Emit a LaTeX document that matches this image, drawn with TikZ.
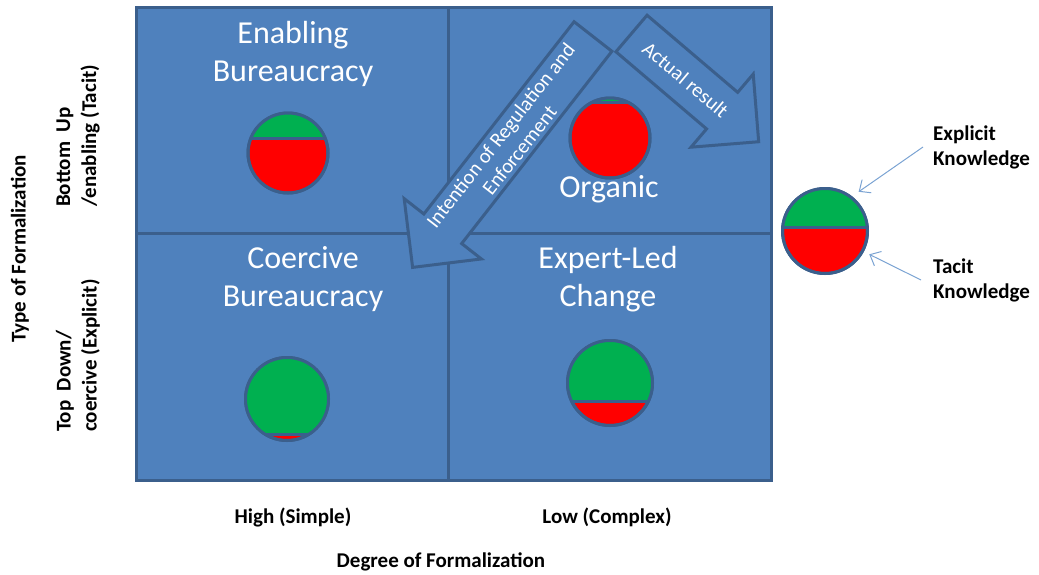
\documentclass[tikz,border=0pt]{standalone}
\usepackage{fontspec}
\setmainfont{Carlito}
\usetikzlibrary{arrows.meta}
\definecolor{boxblue}{HTML}{4F81BD}
\definecolor{boxline}{HTML}{3B5F8C}
\definecolor{ballgreen}{HTML}{00B050}
\definecolor{ballred}{HTML}{FF0000}
\definecolor{legendline}{HTML}{7BA3D3}

\begin{document}
\begin{tikzpicture}[x=1pt,y=-1pt,
   quad/.style={draw=boxline,fill=boxblue,line width=3pt,inner sep=0pt,outer sep=0pt,anchor=north west},
   quadtitle/.style={text=white,align=center,font=\fontsize{32}{38}\selectfont},
   axislabel/.style={font=\bfseries\fontsize{21}{26}\selectfont,inner sep=0pt},
   ball/.style={circle,draw=boxline,fill=ballred,line width=3pt,inner sep=0pt},
   blockarrow/.style={draw=boxline,fill=boxblue,line width=3pt,line join=miter},
   arrowtext/.style={text=white,align=center,font=\fontsize{20.5}{24}\selectfont,inner sep=0pt},
   legarrow/.style={draw=legendline,line width=1pt,-{Straight Barb[length=9pt,width=16pt]}}]
 \useasboundingbox (0,0) rectangle (1039,574);

 \node[quad,minimum width=312pt,minimum height=226pt] (q-eb) at (136,7) {};
 \node[quad,minimum width=323pt,minimum height=226pt] (q-org) at (448,7) {};
 \node[quad,minimum width=312pt,minimum height=247pt] (q-cb) at (136,233) {};
 \node[quad,minimum width=323pt,minimum height=247pt] (q-el) at (448,233) {};

 \foreach \n/\cx/\cy/\r/\s in {eb/288/153/40/-15,org/610/138/40/-36,cb/287/399/41.5/35,
                               el/610/383/42.5/18,leg/825/231/42.5/-4}{
   \node[ball,minimum size={2*\r*1pt}] (ball-\n) at (\cx,\cy) {};
   \begin{scope}
     \clip (ball-\n.center) circle [radius={\r*1pt}];
     \fill[ballgreen] ({\cx-50},{\cy-50}) rectangle ({\cx+50},{\cy+\s});
     \draw[boxline,line width=3pt] ({\cx-50},{\cy+\s}) -- ({\cx+50},{\cy+\s});
   \end{scope}
   \draw[boxline,line width=3pt] (ball-\n.center) circle [radius={\r*1pt}];
 }

 \begin{scope}[shift={(593,36.5)},rotate=232]
   \draw[blockarrow] (0,-24) -- (244,-24) -- (244,-49) -- (293,0) -- (244,49) -- (244,24) -- (0,24) -- cycle;
   \coordinate (intent-c) at (135,0);
 \end{scope}
 \begin{scope}[shift={(631.5,33.5)},rotate=-40.4]
   \draw[blockarrow] (0,-24) -- (119,-24) -- (119,-48) -- (167,0) -- (119,48) -- (119,24) -- (0,24) -- cycle;
   \coordinate (actual-c) at (71,0);
 \end{scope}
 \node[arrowtext,rotate=52] (intent) at (intent-c) {Intention of Regulation and\\Enforcement};
 \node[arrowtext,rotate=-40] (actual) at (actual-c) {Actual result};

 \node[quadtitle] (t-eb) at (293,54) {Enabling\\Bureaucracy};
 \node[quadtitle] (t-org) at (609,189) {Organic};
 \node[quadtitle] (t-cb) at (303,279) {Coercive\\Bureaucracy};
 \node[quadtitle] (t-el) at (608,279) {Expert-Led\\Change};

 \node[axislabel,rotate=90] (type) at (20,249) {Type of Formalization};
 \node[axislabel,rotate=90,align=left,anchor=west] (bottomup) at (78,207) {Bottom~~Up\\/enabling (Tacit)};
 \node[axislabel,rotate=90,align=left,anchor=west] (topdown) at (78,432) {Top~~Down/\\coercive (Explicit)};
 \node[axislabel] (high) at (293,517) {High (Simple)};
 \node[axislabel] (low) at (607,517) {Low (Complex)};
 \node[axislabel] (degree) at (441,562) {Degree of Formalization};

 \node[axislabel,align=left,anchor=west,font=\bfseries\fontsize{21}{25}\selectfont] (explicit) at (933,147) {Explicit\\Knowledge};
 \node[axislabel,align=left,anchor=west,font=\bfseries\fontsize{21}{25}\selectfont] (tacit) at (933,280) {Tacit\\Knowledge};
 \draw[legarrow,shorten >=8pt] ([xshift=-10pt]explicit.west) -- (ball-leg.52);
 \draw[legarrow,shorten >=6pt] ([xshift=-12pt]tacit.west) -- (ball-leg.-28);
\end{tikzpicture}
\end{document}
